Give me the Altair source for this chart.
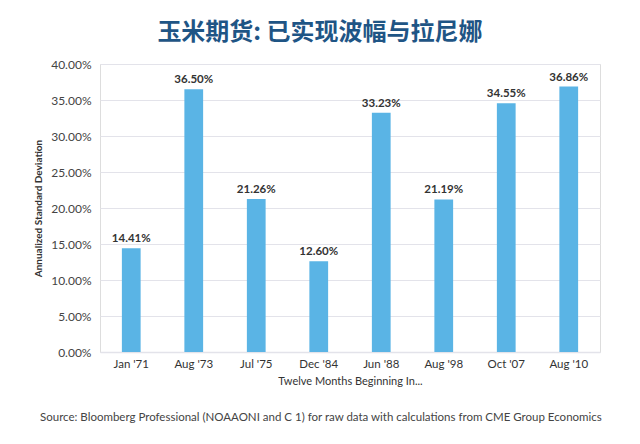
import altair as alt
import pandas as pd

periods = ["Jan '71", "Aug '73", "Jul '75", "Dec '84", "Jun '88", "Aug '98", "Oct '07", "Aug '10"]
values = [0.1441, 0.3650, 0.2126, 0.1260, 0.3323, 0.2119, 0.3455, 0.3686]
y_ticks = [0, 0.05, 0.10, 0.15, 0.20, 0.25, 0.30, 0.35, 0.40]

title_text = "玉米期货: 已实现波幅与拉尼娜"
source_text = "Source: Bloomberg Professional (NOAAONI and C 1) for raw data with calculations from CME Group Economics"

df = pd.DataFrame({"period": periods, "value": values})

FONT = "Lato"

base = alt.Chart(df).encode(
    x=alt.X(
        "period:N",
        sort=periods,
        scale=alt.Scale(paddingInner=0.7, paddingOuter=0.35),
        axis=alt.Axis(
            title="Twelve Months Beginning In...",
            labelAngle=0,
            labelFontSize=11.5,
            labelColor="#333333",
            labelFont=FONT,
            labelPadding=6,
            titleFontSize=11,
            titleFont=FONT,
            titleFontWeight="normal",
            titleColor="#333333",
            titlePadding=6,
            ticks=False,
            domainColor="#e3e3ea",
            domainWidth=1.5,
            grid=False,
        ),
    ),
    y=alt.Y(
        "value:Q",
        scale=alt.Scale(domain=[0, 0.40], nice=False),
        axis=alt.Axis(
            title="Annualized Standard Deviation",
            values=y_ticks,
            format=".2%",
            labelFontSize=12,
            labelColor="#444444",
            labelFont=FONT,
            labelPadding=9,
            titleFontSize=10,
            titleFont=FONT,
            titleFontWeight="bold",
            titleColor="#333333",
            titlePadding=7,
            ticks=False,
            domain=False,
            gridColor="#e3e3ea",
            gridWidth=1.2,
        ),
    ),
)

bars = base.mark_bar(color="#5ab4e5")

labels = base.mark_text(
    dy=-9, fontSize=11.5, fontWeight="bold", color="#333333", font=FONT
).encode(text=alt.Text("value:Q", format=".2%"))

source = alt.Chart(pd.DataFrame({"t": [source_text]})).mark_text(
    align="left", baseline="alphabetic", fontSize=11.5, color="#444444", font=FONT
).encode(x=alt.value(-60), y=alt.value(357), text="t:N")

chart = alt.layer(bars, labels, source).properties(
    width=500,
    height=288,
    padding={"left": 100, "top": 64, "right": 40, "bottom": 92},
    autosize=alt.AutoSizeParams(type="none"),
    title=alt.TitleParams(
        title_text,
        anchor="middle",
        dx=-30,
        offset=13,
        fontSize=24,
        fontWeight="bold",
        color="#1f5585",
        font="Noto Sans CJK SC",
    ),
).configure_view(stroke=None).configure(background="white")

chart.save("out.html", embed_options={"renderer": "svg", "actions": False})
